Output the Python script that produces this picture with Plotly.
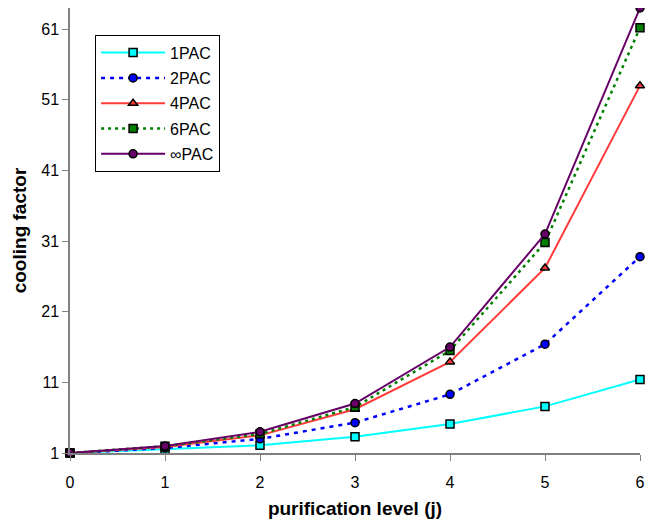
import plotly.graph_objects as go

j_levels = [0, 1, 2, 3, 4, 5, 6]
pac_1 = [1, 1.5, 2.1, 3.3, 5.1, 7.6, 11.4]
pac_2 = [1, 1.7, 3.0, 5.3, 9.3, 16.4, 28.8]
pac_4 = [1, 1.85, 3.5, 7.2, 13.9, 27.2, 53.0]
pac_6 = [1, 1.95, 3.7, 7.5, 15.5, 30.8, 61.2]
pac_inf = [1, 2, 4, 8, 16, 32, 64]
y_ticks = [1, 11, 21, 31, 41, 51, 61]

series = [
    ("1PAC", pac_1, "#00FFFF", "solid", "square"),
    ("2PAC", pac_2, "#0000FF", "4px,5px", "circle"),
    ("4PAC", pac_4, "#FF3B3B", "solid", "triangle-up"),
    ("6PAC", pac_6, "#008000", "3px,4px", "square"),
    ("\u221ePAC", pac_inf, "#660066", "solid", "circle"),
]

fig = go.Figure()
for name, vals, color, dash, sym in series:
    fig.add_trace(go.Scatter(
        x=j_levels, y=vals, name=name, legendgroup=name, mode="lines+markers",
        line=dict(color=color, width=2.5 if dash != "solid" else 2, dash=dash),
        marker=dict(symbol=sym, size=8, color=color, line=dict(color="black", width=1.5)),
        cliponaxis=False,
    ))

fig.update_layout(
    width=652, height=513,
    margin=dict(l=62, r=20, t=0, b=68),
    paper_bgcolor="white", plot_bgcolor="white",
    font=dict(family="Liberation Sans, Arial, sans-serif", size=16, color="black"),
    showlegend=True,
    legend=dict(
        x=0.044, y=0.94, xanchor="left", yanchor="top",
        bordercolor="black", borderwidth=1, bgcolor="white",
        font=dict(size=16), tracegroupgap=1.5, itemwidth=64,
    ),
    xaxis=dict(
        range=[0, 6], tickvals=j_levels, showgrid=False, zeroline=False,
        showline=True, linecolor="#808080", linewidth=1.5,
        ticks="outside", ticklen=6, tickcolor="#808080", ticklabelstandoff=8,
        title=dict(text="<b>purification level (j)</b>", font=dict(size=19), standoff=12),
    ),
    yaxis=dict(
        range=[1, 64], tickvals=y_ticks, showgrid=False, zeroline=False,
        showline=True, linecolor="#808080", linewidth=1.5,
        ticks="outside", ticklen=6, tickcolor="#808080",
        title=dict(text="<b>cooling factor</b>", font=dict(size=19), standoff=10),
    ),
)

fig.write_html("out.html")
